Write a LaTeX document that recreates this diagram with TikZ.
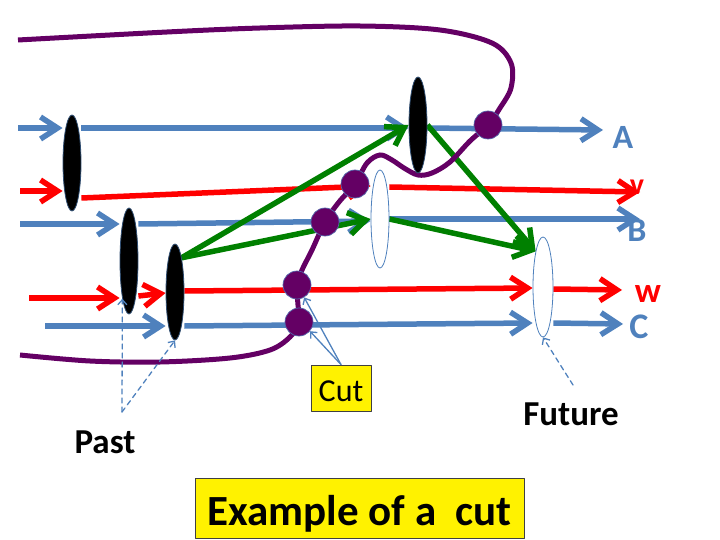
\documentclass[tikz,border=0pt]{standalone}
\usepackage{fontspec}
\setmainfont{Carlito}
\usetikzlibrary{arrows.meta,shapes.geometric,backgrounds}
\definecolor{pblue}{RGB}{79,129,189}
\definecolor{pred}{RGB}{255,0,0}
\definecolor{pgreen}{RGB}{0,128,0}
\definecolor{ppurple}{RGB}{100,0,100}
\tikzset{
  proc/.style={line width=5.5pt,->},
  blu/.style={proc,draw=pblue},
  rd/.style={proc,draw=pred},
  grn/.style={proc,draw=pgreen},
  blob/.style={ellipse,draw=pblue!60!black,line width=0.8pt,fill=black,inner sep=0pt,minimum width=18pt},
  hole/.style={blob,draw=pblue,fill=white},
  cutpt/.style={circle,fill=ppurple,draw=pblue!80!ppurple,line width=0.7pt,minimum size=28pt,inner sep=0pt},
  pointer/.style={draw=pblue,line width=1.3pt,-{Straight Barb[length=5pt,width=9pt]}},
  ybox/.style={draw=black!75,fill=yellow,line width=0.8pt,inner sep=0pt},
  tag/.style={font=\bfseries\fontsize{#1}{#1}\selectfont,inner sep=0pt}
}
\begin{document}
\begin{tikzpicture}[x=1pt,y=-1pt,line join=round,line cap=round,>={Straight Barb[length=17pt,width=22pt]}]
  \useasboundingbox (0,0) rectangle (720,540);
  % events (black = past, white = future)
  \node[blob,minimum height=96pt] (e1) at (72,163) {};
  \node[blob,minimum height=106pt] (e2) at (129,261) {};
  \node[blob,minimum height=96pt] (e4) at (175,292) {};
  \node[blob,minimum height=96pt] (e3) at (418,125) {};
  \node[hole,minimum height=98pt] (w1) at (380,219) {};
  \node[hole,minimum height=100pt,minimum width=20pt] (w2) at (543,287) {};
  % cut points
  \node[cutpt] (k1) at (488,125) {};
  \node[cutpt] (k2) at (355,184) {};
  \node[cutpt] (k3) at (325,222) {};
  \node[cutpt] (k4) at (297,285) {};
  \node[cutpt] (k5) at (299,322) {};
  % process ends
  \coordinate (a0) at (18,128);  \coordinate (a9) at (603,130);
  \coordinate (v0) at (20,191);  \coordinate (v9) at (640,192);
  \coordinate (b0) at (20,224);  \coordinate (b9) at (640,219);
  \coordinate (w0) at (29,298);  \coordinate (w9) at (622,290);
  \coordinate (c0) at (45,326);  \coordinate (c9) at (623,324);
  \begin{pgfonlayer}{background}
    % A
    \draw[blu] (a0) -- (a0 -| e1.west);
    \draw[blu] (a0 -| e1.east) -- (a0 -| e3.west);
    \draw[blu] (a0 -| e3.east) -- (a9);
    % v
    \draw[rd] (v0) -- (v0 -| e1.west);
    \draw[rd] (e1.east |- 0,198) -- (w1.west |- 0,186);
    \draw[rd] (w1.east |- 0,187) -- (v9);
    % B
    \draw[blu] (b0) -- (b0 -| e2.west);
    \draw[blu] (b0 -| e2.east) -- (w1.west |- 0,221);
    \draw[blu] (w1.east |- 0,219) -- (b9);
    % w
    \draw[rd] (w0) -- (w0 -| e2.west);
    \draw[rd] (e2.east |- 0,296) -- (e4.west |- 0,293);
    \draw[rd] (e4.east |- 0,291) -- (w2.west |- 0,288);
    \draw[rd] (w2.east |- 0,289) -- (w9);
    % C
    \draw[blu] (c0) -- (c0 -| e4.west);
    \draw[blu] (e4.east |- 0,326) -- (w2.west |- 0,323);
    \draw[blu] (w2.east |- 0,323) -- (c9);
    % messages
    \draw[grn] (e4.north east) -- (e3.west);
    \draw[grn] (e4.north east) -- (w1.west);
    \draw[grn] (e3.east) -- (w2.north west);
    \draw[grn] (w1.east) -- (w2.north west);
    % the cut
    \draw[ppurple,line width=5pt] plot[smooth,tension=0.55] coordinates {
      (18,40) (167,32) (260,28) (360,26) (440,30) (492,43) (511,63) (511,88)
      (500,108) (488,125) (470,141) (450,162) (432,173) (418,175) (404,168)
      (392,160) (380,155) (367,163) (355,184) (339,202) (325,222) (312,250)
      (302,270) (297,285) (298,305) (299,322) (290,337) (270,350) (230,358)
      (160,362) (90,361) (20,355)};
  \end{pgfonlayer}
  % process names
  \node[tag=34,text=pblue] (nA) at (623,137) {A};
  \node[tag=30,text=pred] (nv) at (637,187) {v};
  \node[tag=34,text=pblue] (nB) at (637,230) {B};
  \node[tag=35,text=pred] (nw) at (648,294) {w};
  \node[tag=36,text=pblue] (nC) at (639,327) {C};
  % notes
  \node[ybox,minimum width=60pt,minimum height=46pt,text height=27pt,text depth=0pt,
        font=\fontsize{32}{34}\selectfont] (cut) at (341,388) {Cut};
  \draw[pointer] (cut.north) -- (k4.-60);
  \draw[pointer] (cut.north) -- (k5.-40);
  \node[tag=35] (past) at (105,442) {Past};
  \coordinate (pp) at (122,412);
  \draw[pointer,dash pattern=on 5pt off 4pt] (pp) -- (e2.south west);
  \draw[pointer,dash pattern=on 5pt off 4pt] (pp) -- (e4.south);
  \node[tag=35] (future) at (571,414) {Future};
  \coordinate (ff) at (573,385);
  \draw[pointer,dash pattern=on 5pt off 4pt] (ff) -- (w2.south);
  \node[ybox,minimum width=329pt,minimum height=60pt,text height=35pt,text depth=0pt,
        font=\bfseries\fontsize{43}{46}\selectfont] (title) at (359.5,508) {Example of a\ \ cut};
\end{tikzpicture}
\end{document}
